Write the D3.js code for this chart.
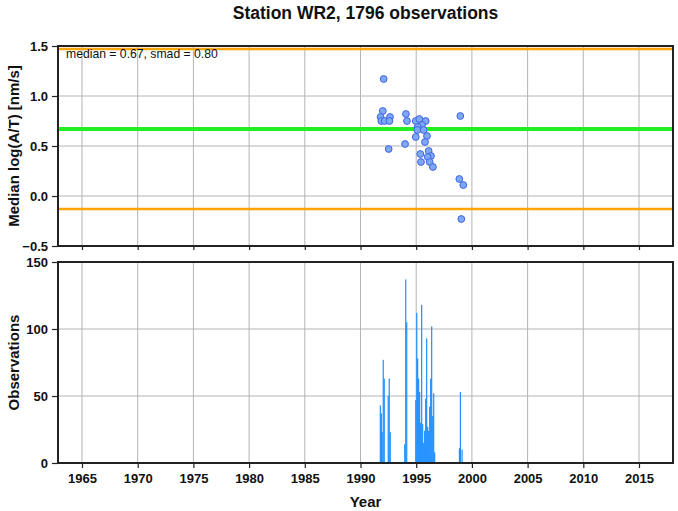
<!DOCTYPE html>
<html><head><meta charset="utf-8">
<script src="https://cdn.jsdelivr.net/npm/d3@7"></script>
<style>body{margin:0;background:#fff}svg{display:block}text{font-family:"Liberation Sans",Arial,sans-serif}</style>
</head><body><div id="chart"></div>
<script>
// ---- data ----
const title = "Station WR2, 1796 observations";
const medianValue = 0.67;
const smadValue = 0.80;
const upperLine = 1.47;
const lowerLine = -0.13;
const pointYears = [1992.08,1992.0,1991.8,1992.65,1991.87,1992.17,1992.6,1992.53,1994.08,1994.17,1994.0,1994.96,1995.28,1995.85,1995.52,1995.13,1995.1,1995.67,1995.97,1994.96,1995.79,1996.12,1995.37,1996.33,1996.03,1995.43,1996.21,1996.5,1998.96,1998.87,1999.23,1999.05];
const pointValues = [1.17,0.85,0.79,0.79,0.75,0.75,0.75,0.47,0.82,0.75,0.52,0.75,0.77,0.75,0.71,0.69,0.66,0.66,0.60,0.59,0.54,0.45,0.42,0.40,0.39,0.34,0.34,0.29,0.80,0.17,0.11,-0.23];
const barYears = [1991.78,1991.87,1991.95,1992.04,1992.13,1992.49,1992.58,1992.67,1993.97,1994.06,1994.15,1994.96,1995.05,1995.13,1995.22,1995.31,1995.40,1995.49,1995.58,1995.67,1995.76,1995.85,1995.94,1996.03,1996.12,1996.21,1996.30,1996.39,1996.48,1996.57,1996.66,1998.88,1998.97,1999.12];
const barCounts = [43,37,23,77,63,50,63,23,14,137,105,47,112,78,63,53,30,118,29,15,24,48,93,27,24,42,63,102,35,52,8,11,53,10];
const xTicks = [1965,1970,1975,1980,1985,1990,1995,2000,2005,2010,2015];
const topTicks = [-0.5,0.0,0.5,1.0,1.5];
const bottomTicks = [0,50,100,150];

// ---- layout ----
const W = 678, H = 511;
const L = 58, R = 673;
const top1 = 46, bot1 = 246, top2 = 262, bot2 = 463;
const svg = d3.select("#chart").append("svg").attr("width", W).attr("height", H);

const x = d3.scaleLinear().domain([1962.846, 2018.052]).range([L, R]);
const y1 = d3.scaleLinear().domain([-0.5, 1.5]).range([bot1, top1]);
const y2 = d3.scaleLinear().domain([0, 150]).range([bot2, top2]);

function grid(yScale, ticks, t, b) {
  const g = svg.append("g");
  g.selectAll(".vx").data(xTicks).join("line")
    .attr("x1", d => x(d)).attr("x2", d => x(d)).attr("y1", t).attr("y2", b)
    .attr("stroke", "#b4b4b4").attr("stroke-width", 1);
  g.selectAll(".hy").data(ticks).join("line")
    .attr("x1", L).attr("x2", R).attr("y1", d => yScale(d)).attr("y2", d => yScale(d))
    .attr("stroke", "#b4b4b4").attr("stroke-width", 1);
}
grid(y1, topTicks, top1, bot1);
grid(y2, bottomTicks, top2, bot2);

// reference lines
[upperLine, lowerLine].forEach(v => {
  svg.append("line").attr("x1", L).attr("x2", R).attr("y1", y1(v)).attr("y2", y1(v))
    .attr("stroke", "#ffa500").attr("stroke-width", 2.5);
});
svg.append("line").attr("x1", L).attr("x2", R).attr("y1", y1(medianValue)).attr("y2", y1(medianValue))
  .attr("stroke", "#22ee22").attr("stroke-width", 4);

// points
svg.append("g").selectAll("circle").data(pointYears.map((d, i) => [d, pointValues[i]])).join("circle")
  .attr("cx", d => x(d[0])).attr("cy", d => y1(d[1])).attr("r", 3.4)
  .attr("fill", "#7fa8f2").attr("stroke", "#3f66e6").attr("stroke-width", 1);

// bars
const bw = Math.max(1.2, x(1992.1) - x(1992));
svg.append("g").selectAll("rect").data(barYears.map((d, i) => [d, barCounts[i]])).join("rect")
  .attr("x", d => x(d[0]) - bw / 2).attr("width", bw)
  .attr("y", d => y2(d[1])).attr("height", d => y2(0) - y2(d[1]))
  .attr("fill", "#1e8fff");

// frames
function frame(t, b) {
  svg.append("rect").attr("x", L).attr("y", t).attr("width", R - L).attr("height", b - t)
    .attr("fill", "none").attr("stroke", "#222").attr("stroke-width", 2);
}
frame(top1, bot1);
frame(top2, bot2);

// axes
const fontTick = "bold 13px 'Liberation Sans', Arial, sans-serif";
const ay1 = svg.append("g").attr("transform", `translate(${L},0)`)
  .call(d3.axisLeft(y1).tickValues(topTicks).tickFormat(d3.format(".1f")).tickSize(6).tickPadding(4));
const ay2 = svg.append("g").attr("transform", `translate(${L},0)`)
  .call(d3.axisLeft(y2).tickValues(bottomTicks).tickFormat(d3.format("d")).tickSize(6).tickPadding(4));
const ax1 = svg.append("g").attr("transform", `translate(0,${bot1})`)
  .call(d3.axisBottom(x).tickValues(xTicks).tickFormat("").tickSize(4));
const ax2 = svg.append("g").attr("transform", `translate(0,${bot2})`)
  .call(d3.axisBottom(x).tickValues(xTicks).tickFormat(d3.format("d")).tickSize(5).tickPadding(6));
[ay1, ay2, ax1, ax2].forEach(a => {
  a.select(".domain").remove();
  a.selectAll("line").attr("stroke", "#222").attr("stroke-width", 1.2);
  a.selectAll("text").style("font", fontTick).attr("fill", "#111");
});

// texts
svg.append("text").attr("x", (L + R) / 2).attr("y", 19).attr("text-anchor", "middle")
  .style("font", "bold 17.5px 'Liberation Sans', Arial, sans-serif").attr("fill", "#111").text(title);
svg.append("text").attr("x", 66).attr("y", 58)
  .style("font", "12.2px 'Liberation Sans', Arial, sans-serif").attr("fill", "#111")
  .text(`median = ${medianValue.toFixed(2)}, smad = ${smadValue.toFixed(2)}`);
svg.append("text").attr("transform", `translate(14,${(top1 + bot1) / 2}) rotate(-90)`)
  .attr("text-anchor", "middle").attr("dy", "0.35em")
  .style("font", "bold 15px 'Liberation Sans', Arial, sans-serif").attr("fill", "#111")
  .text("Median log(A/T) [nm/s]");
svg.append("text").attr("transform", `translate(14,${(top2 + bot2) / 2}) rotate(-90)`)
  .attr("text-anchor", "middle").attr("dy", "0.35em")
  .style("font", "bold 15px 'Liberation Sans', Arial, sans-serif").attr("fill", "#111")
  .text("Observations");
svg.append("text").attr("x", (L + R) / 2).attr("y", 507).attr("text-anchor", "middle")
  .style("font", "bold 15px 'Liberation Sans', Arial, sans-serif").attr("fill", "#111").text("Year");
</script></body></html>
